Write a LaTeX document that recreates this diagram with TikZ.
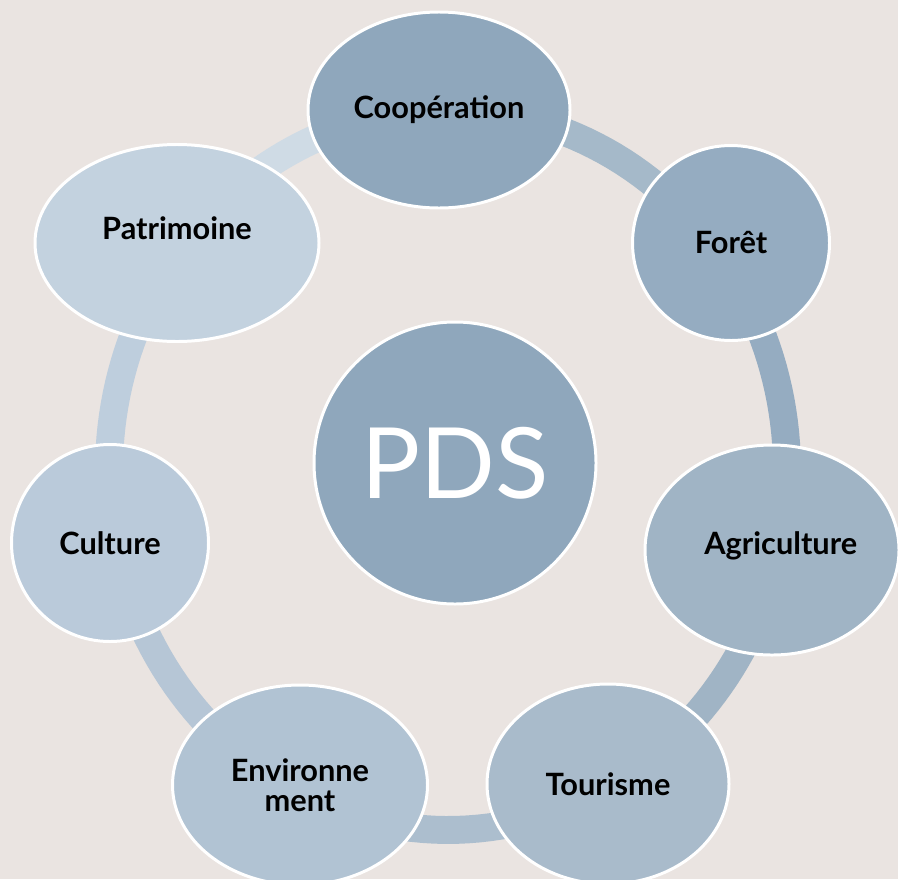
\documentclass[tikz,border=0pt]{standalone}
\usepackage{fontspec}
\setmainfont{Lato}
\usetikzlibrary{shapes.geometric}
\newcommand{\px}{0.02cm}
\newcommand{\ringx}{448}
\newcommand{\ringy}{470}
\definecolor{bgcol}{HTML}{EAE4E1}
\definecolor{ccoop}{HTML}{8FA7BC}
\definecolor{cforet}{HTML}{95ACC1}
\definecolor{cagri}{HTML}{A0B4C5}
\definecolor{ctour}{HTML}{A9BBCB}
\definecolor{cenv}{HTML}{B1C3D3}
\definecolor{ccult}{HTML}{BACADA}
\definecolor{cpatr}{HTML}{C3D2DF}
\tikzset{
  bubble/.style={ellipse, draw=white, line width=1.7pt, font=\bfseries\fontsize{17.5}{17}\selectfont, align=center, inner sep=0pt},
  ring/.style={line width=15.9pt}
}
\begin{document}
\begin{tikzpicture}[x=\px, y=-\px]

        \useasboundingbox[fill=bgcol] (0, 0) rectangle (898, 879);

        % ring behind the bubbles
        \draw[ring, cpatr!80!white] plot[domain=-142:-90, samples=30] ({\ringx+339*cos(\x)}, {\ringy+360*sin(\x)});
        \draw[ring, ccoop!80!white] plot[domain=-90:-37, samples=30] ({\ringx+339*cos(\x)}, {\ringy+360*sin(\x)});
        \draw[ring, cforet] plot[domain=-37:13, samples=30] ({\ringx+339*cos(\x)}, {\ringy+360*sin(\x)});
        \draw[ring, cagri] plot[domain=13:62, samples=30] ({\ringx+339*cos(\x)}, {\ringy+360*sin(\x)});
        \draw[ring, ctour!60!cenv] plot[domain=62:117, samples=30] ({\ringx+339*cos(\x)}, {\ringy+360*sin(\x)});
        \draw[ring, cenv!50!ccult] plot[domain=117:168, samples=30] ({\ringx+339*cos(\x)}, {\ringy+360*sin(\x)});
        \draw[ring, ccult!50!cpatr] plot[domain=168:218, samples=30] ({\ringx+339*cos(\x)}, {\ringy+360*sin(\x)});

        \node[bubble, fill=ccoop, minimum width=262*\px, minimum height=196*\px] (coop) at (439, 110) {Coopération};
        \node[bubble, fill=cforet, minimum width=197*\px, minimum height=195*\px] (foret) at (731, 243) {Forêt};
        \node[bubble, fill=cagri, minimum width=254*\px, minimum height=210*\px, text depth=8pt, xshift=0pt] (agri) at (772, 550) {\hspace*{10pt}Agriculture};
        \node[bubble, fill=ctour, minimum width=242*\px, minimum height=200*\px] (tour) at (608, 784) {Tourisme};
        \node[bubble, fill=cenv, minimum width=255*\px, minimum height=200*\px] (env) at (300, 785) {Environne\\ment};
        \node[bubble, fill=ccult, minimum width=197*\px, minimum height=197*\px] (cult) at (110, 543) {Culture};
        \node[bubble, fill=cpatr, minimum width=284*\px, minimum height=197*\px, text depth=17pt] (patr) at (177, 243) {Patrimoine};

        \node[circle, draw=white, line width=1.7pt, fill=ccoop, text=white, minimum size=282*\px,
              font=\fontsize{56}{60}\selectfont] (pds) at (455, 463) {PDS};

    \end{tikzpicture}
\end{document}
